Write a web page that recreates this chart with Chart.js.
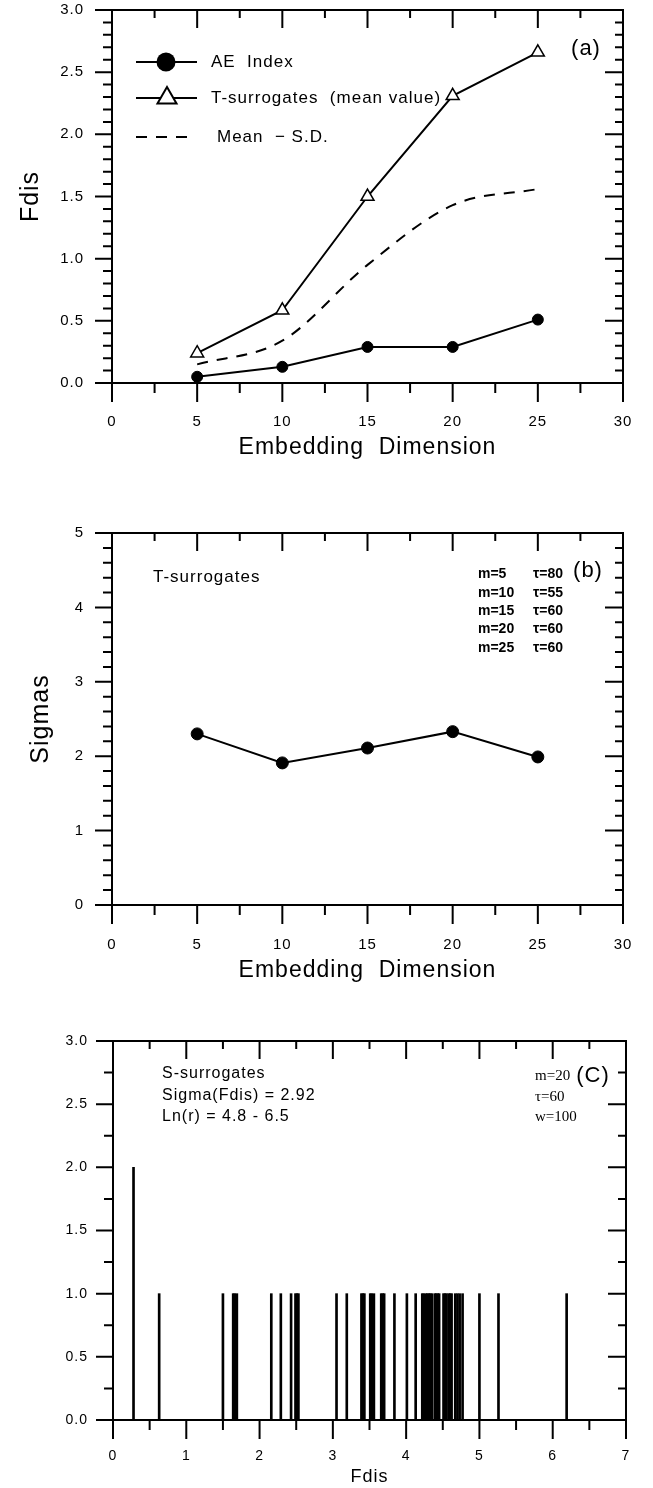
<!DOCTYPE html>
<html>
<head>
<meta charset="utf-8">
<script src="https://cdn.jsdelivr.net/npm/chart.js@4.4.1/dist/chart.umd.min.js"></script>
<style>
  html, body { margin: 0; padding: 0; background: #fff; }
  body { position: relative; width: 653px; height: 1488px; overflow: hidden; }
  canvas { position: absolute; left: 0; }
</style>
</head>
<body>
<canvas id="graficoA" width="653" height="470" style="top:0px"></canvas>
<canvas id="graficoB" width="653" height="520" style="top:470px"></canvas>
<canvas id="graficoC" width="653" height="498" style="top:990px"></canvas>
<script>
// Datos
const dimensiones = [5, 10, 15, 20, 25];
const fdisAE = [0.05, 0.13, 0.29, 0.29, 0.51];
const fdisTMedia = [0.24, 0.585, 1.50, 2.31, 2.66];
const fdisMediaMenosSD = [0.15, 0.34, 0.95, 1.43, 1.56];
const sigmasT = [2.30, 1.91, 2.11, 2.33, 1.99];

// panel (c): posiciones de Fdis de las S-surrogates y su conteo
const fdisS = [0.28, 0.63, 1.50, 1.64, 1.66, 1.69, 2.16, 2.29, 2.43, 2.49, 2.51, 2.53,
  3.05, 3.19, 3.39, 3.41, 3.43, 3.51, 3.53, 3.56, 3.66, 3.68, 3.70, 3.84, 4.01, 4.13,
  4.22, 4.24, 4.27, 4.29, 4.31, 4.33, 4.35, 4.39, 4.41, 4.43, 4.45, 4.51, 4.53, 4.55,
  4.58, 4.60, 4.62, 4.67, 4.70, 4.73, 4.77, 5.00, 5.26, 6.19];
const cuentasS = [2, 1, 1, 1, 1, 1, 1, 1, 1, 1, 1, 1,
  1, 1, 1, 1, 1, 1, 1, 1, 1, 1, 1, 1, 1, 1,
  1, 1, 1, 1, 1, 1, 1, 1, 1, 1, 1, 1, 1, 1,
  1, 1, 1, 1, 1, 1, 1, 1, 1, 1];

// etiquetas de los ejes
const ticksDimension = [0, 5, 10, 15, 20, 25, 30];
const ticksFdisA = [0, 0.5, 1.0, 1.5, 2.0, 2.5, 3.0];
const ticksSigmas = [0, 1, 2, 3, 4, 5];
const ticksFdisC = [0, 1, 2, 3, 4, 5, 6, 7];
const ticksCuentas = [0, 0.5, 1.0, 1.5, 2.0, 2.5, 3.0];

const listaTau = [["m=5", "τ=80"], ["m=10", "τ=55"], ["m=15", "τ=60"], ["m=20", "τ=60"], ["m=25", "τ=60"]];

const SANS = "'Liberation Sans', Arial, sans-serif";
const SERIF = "'Liberation Serif', 'Times New Roman', serif";
Chart.defaults.font.family = SANS;
Chart.defaults.color = '#000';

const puntos = (xs, ys) => xs.map((x, i) => ({ x, y: ys[i] }));
const fijarTicks = lista => scale => { scale.ticks = lista.map(v => ({ value: v })); };

// marco con marcas: hacia afuera abajo/izquierda, hacia adentro arriba/derecha
const marco = {
  id: 'marco',
  beforeDraw(chart) {
    if ('letterSpacing' in chart.ctx) chart.ctx.letterSpacing = '1px';
  },
  beforeDatasetsDraw(chart, args, opts) {
    const { ctx, chartArea: a, scales: { x, y } } = chart;
    const esMayor = (v, paso) => Math.abs(v / paso - Math.round(v / paso)) < 1e-6;
    ctx.save();
    ctx.strokeStyle = '#000';
    ctx.lineWidth = 2;
    ctx.strokeRect(a.left, a.top, a.right - a.left, a.bottom - a.top);
    ctx.beginPath();
    for (let i = 0; x.min + i * opts.xMenor <= x.max + 1e-9; i++) {
      const v = x.min + i * opts.xMenor;
      const px = x.getPixelForValue(v);
      const may = esMayor(v, opts.xMayor);
      ctx.moveTo(px, a.bottom); ctx.lineTo(px, a.bottom + (may ? 19 : 10));
      ctx.moveTo(px, a.top); ctx.lineTo(px, a.top + (may ? 18 : 8));
    }
    for (let i = 0; y.min + i * opts.yMenor <= y.max + 1e-9; i++) {
      const v = y.min + i * opts.yMenor;
      const py = y.getPixelForValue(v);
      const may = esMayor(v, opts.yMayor);
      ctx.moveTo(a.left, py); ctx.lineTo(a.left - (may ? 17 : 9), py);
      ctx.moveTo(a.right, py); ctx.lineTo(a.right - (may ? 18 : 8), py);
    }
    ctx.stroke();
    ctx.restore();
  }
};

function texto(ctx, t, x, y, fuente, alinear, espacio) {
  ctx.font = fuente;
  ctx.textAlign = alinear || 'left';
  ctx.textBaseline = 'middle';
  ctx.fillStyle = '#000';
  if ('letterSpacing' in ctx) ctx.letterSpacing = espacio || '1px';
  ctx.fillText(t, x, y);
}

function ejeX(lista, titulo, tamTitulo, padTitulo, padTicks, alto, tamTicks) {
  return {
    type: 'linear', min: lista[0], max: lista[lista.length - 1], offset: false,
    afterBuildTicks: fijarTicks(lista),
    // alto fijo y sin relleno extra a los lados (lo pone el padding de las etiquetas)
    afterFit: s => { s.height = alto; s.paddingLeft = 0; s.paddingRight = 0; },
    grid: { display: false, drawTicks: false },
    border: { display: false },
    ticks: { padding: padTicks, font: { size: tamTicks }, maxRotation: 0, autoSkip: false },
    title: { display: true, text: titulo, font: { size: tamTitulo }, padding: { top: 0, bottom: padTitulo } }
  };
}

function ejeY(lista, ancho, padTicks, tamTicks, decimales, titulo, padTitulo) {
  return {
    min: lista[0], max: lista[lista.length - 1],
    afterBuildTicks: fijarTicks(lista),
    afterFit: s => { s.width = ancho; s.paddingTop = 0; s.paddingBottom = 0; },
    grid: { display: false, drawTicks: false },
    border: { display: false },
    ticks: { padding: padTicks, font: { size: tamTicks }, callback: v => v.toFixed(decimales) },
    title: { display: !!titulo, text: titulo || '', font: { size: 25 }, padding: { top: padTitulo || 0, bottom: 0 } }
  };
}

const comunes = {
  responsive: false,
  animation: false,
  events: []
};

// ----- (a) -----
const leyendaA = {
  id: 'leyendaA',
  afterDraw(chart) {
    const { ctx, chartArea: a } = chart;
    ctx.save();
    ctx.strokeStyle = '#000';
    ctx.lineWidth = 2;
    const x0 = a.left + 24, x1 = a.left + 85, xm = a.left + 54;
    const y1 = a.top + 52, y2 = a.top + 88, y3 = a.top + 127;
    ctx.beginPath(); ctx.moveTo(x0, y1); ctx.lineTo(x1, y1); ctx.stroke();
    ctx.beginPath(); ctx.arc(xm, y1, 9.5, 0, Math.PI * 2); ctx.fillStyle = '#000'; ctx.fill();
    ctx.beginPath(); ctx.moveTo(x0, y2); ctx.lineTo(x1, y2); ctx.stroke();
    const r = 11;
    ctx.beginPath();
    ctx.moveTo(xm + 1, y2 - r);
    ctx.lineTo(xm + 1 + r * Math.sin(2 * Math.PI / 3), y2 - r * Math.cos(2 * Math.PI / 3));
    ctx.lineTo(xm + 1 + r * Math.sin(4 * Math.PI / 3), y2 - r * Math.cos(4 * Math.PI / 3));
    ctx.closePath();
    ctx.fillStyle = '#fff'; ctx.fill(); ctx.stroke();
    ctx.setLineDash([11, 9]);
    ctx.beginPath(); ctx.moveTo(x0, y3); ctx.lineTo(a.left + 75, y3); ctx.stroke();
    ctx.setLineDash([]);
    const f = "17px " + SANS;
    texto(ctx, 'AE  Index', a.left + 99, y1, f);
    texto(ctx, 'T-surrogates  (mean value)', a.left + 99, y2, f);
    texto(ctx, 'Mean  − S.D.', a.left + 105, y3, f);
    texto(ctx, '(a)', a.right - 37, a.top + 39, "22px " + SANS, 'center');
    ctx.restore();
  }
};

new Chart(document.getElementById('graficoA'), {
  type: 'line',
  data: {
    datasets: [
      { label: 'AE Index', data: puntos(dimensiones, fdisAE), borderColor: '#000', backgroundColor: '#000',
        borderWidth: 2, pointStyle: 'circle', pointRadius: 5.5, pointBorderWidth: 1 },
      { label: 'T-surrogates (mean value)', data: puntos(dimensiones, fdisTMedia), borderColor: '#000',
        backgroundColor: '#fff', borderWidth: 2, pointStyle: 'triangle', pointRadius: 7.5, pointBorderWidth: 1.5 },
      { label: 'Mean − S.D.', data: puntos(dimensiones, fdisMediaMenosSD), borderColor: '#000',
        borderWidth: 2, borderDash: [11, 9], pointRadius: 0, cubicInterpolationMode: 'monotone' }
    ]
  },
  options: {
    ...comunes,
    layout: { autoPadding: false, padding: { top: 10, right: 30, left: 0, bottom: 0 } },
    plugins: { legend: { display: false }, tooltip: { enabled: false },
      marco: { xMayor: 5, xMenor: 2.5, yMayor: 0.5, yMenor: 0.1 } },
    scales: {
      x: ejeX(ticksDimension, 'Embedding  Dimension', 23, 9, 30, 87, 15),
      y: ejeY(ticksFdisA, 112, 28, 15, 1, 'Fdis', 16)
    }
  },
  plugins: [marco, leyendaA]
});

// ----- (b) -----
const notasB = {
  id: 'notasB',
  afterDraw(chart) {
    const { ctx, chartArea: a } = chart;
    ctx.save();
    texto(ctx, 'T-surrogates', a.left + 41, a.top + 44, "17px " + SANS);
    const filas = [41, 60, 78, 96, 115];
    listaTau.forEach((fila, i) => {
      texto(ctx, fila[0], a.left + 366, a.top + filas[i], "bold 14px " + SANS, 'left', '0px');
      texto(ctx, fila[1], a.left + 421, a.top + filas[i], "bold 14px " + SANS, 'left', '0px');
    });
    texto(ctx, '(b)', a.right - 35, a.top + 38, "22px " + SANS, 'center');
    ctx.restore();
  }
};

new Chart(document.getElementById('graficoB'), {
  type: 'line',
  data: {
    datasets: [
      { label: 'Sigmas', data: puntos(dimensiones, sigmasT), borderColor: '#000', backgroundColor: '#000',
        borderWidth: 2, pointStyle: 'circle', pointRadius: 6, pointBorderWidth: 1 }
    ]
  },
  options: {
    ...comunes,
    layout: { autoPadding: false, padding: { top: 63, right: 30, left: 0, bottom: 0 } },
    plugins: { legend: { display: false }, tooltip: { enabled: false },
      marco: { xMayor: 5, xMenor: 2.5, yMayor: 1, yMenor: 0.2 } },
    scales: {
      x: ejeX(ticksDimension, 'Embedding  Dimension', 23, 6, 31, 85, 15),
      y: ejeY(ticksSigmas, 112, 28, 15, 0, 'Sigmas', 26)
    }
  },
  plugins: [marco, notasB]
});

// ----- (c) -----
const notasC = {
  id: 'notasC',
  afterDraw(chart) {
    const { ctx, chartArea: a } = chart;
    ctx.save();
    const f = "16px " + SANS;
    texto(ctx, 'S-surrogates', a.left + 49, a.top + 33, f);
    texto(ctx, 'Sigma(Fdis) = 2.92', a.left + 49, a.top + 55, f);
    texto(ctx, 'Ln(r) = 4.8 - 6.5', a.left + 49, a.top + 76, f);
    const fs = "15px " + SERIF;
    texto(ctx, 'm=20', a.left + 422, a.top + 35, fs, 'left', '0px');
    texto(ctx, 'τ=60', a.left + 422, a.top + 56, fs, 'left', '0px');
    texto(ctx, 'w=100', a.left + 422, a.top + 76, fs, 'left', '0px');
    texto(ctx, '(C)', a.right - 33, a.top + 35, "22px " + SANS, 'center');
    ctx.restore();
  }
};

new Chart(document.getElementById('graficoC'), {
  type: 'bar',
  data: {
    datasets: [
      { label: 'S-surrogates', data: puntos(fdisS, cuentasS), backgroundColor: '#000',
        borderWidth: 0, barThickness: 2 }
    ]
  },
  options: {
    ...comunes,
    layout: { autoPadding: false, padding: { top: 51, right: 27, left: 0, bottom: 0 } },
    plugins: { legend: { display: false }, tooltip: { enabled: false },
      marco: { xMayor: 1, xMenor: 0.5, yMayor: 0.5, yMenor: 0.25 } },
    scales: {
      x: ejeX(ticksFdisC, 'Fdis', 18, 0, 28, 68, 14),
      y: ejeY(ticksCuentas, 113, 25, 14, 1, null, 0)
    }
  },
  plugins: [marco, notasC]
});
</script>
</body>
</html>
